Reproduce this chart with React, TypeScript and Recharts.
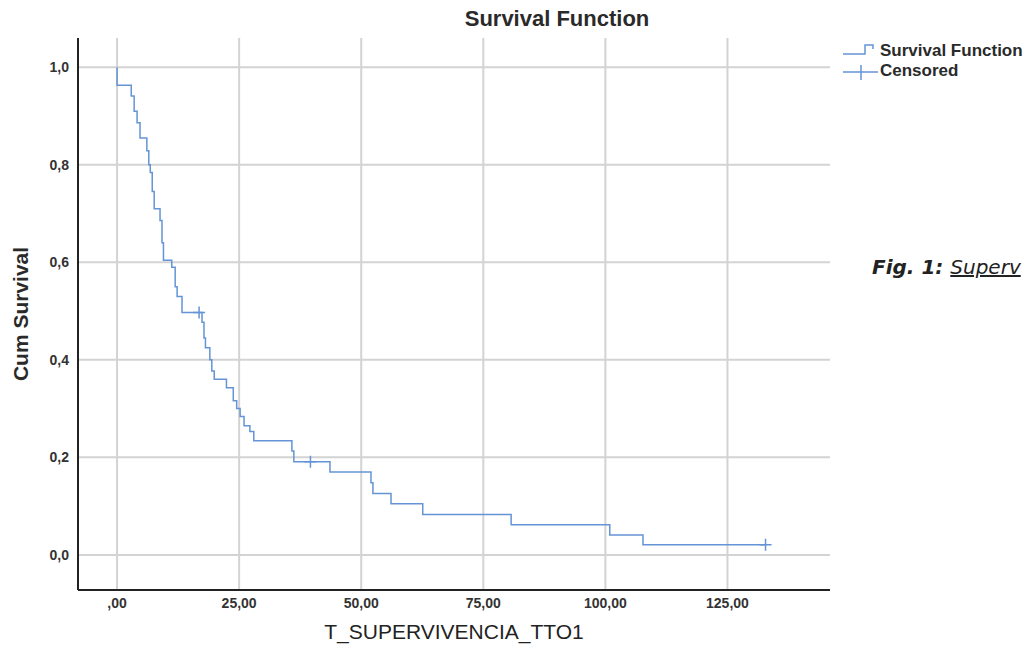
import { ComposedChart, Line, XAxis, YAxis, ReferenceLine } from "recharts";

// Kaplan-Meier steps
const times = [
  0, 0, 2.9, 3.5, 4.1, 4.7, 6.1, 6.5, 6.8, 7.2, 7.6, 8.8, 9.2, 9.5, 11.2, 11.9,
  12.3, 13.3, 17.4, 17.8, 18.1, 19.0, 19.4, 19.9, 22.4, 23.8, 24.5, 25.2, 26.0,
  27.2, 28.0, 35.8, 36.2, 43.6, 52.0, 52.4, 56.1, 62.6, 80.7, 100.9, 107.7, 132.8,
];
const survival = [
  1.0, 0.963, 0.941, 0.91, 0.886, 0.855, 0.829, 0.8, 0.784, 0.745, 0.71, 0.686,
  0.64, 0.604, 0.59, 0.55, 0.53, 0.497, 0.477, 0.445, 0.425, 0.4, 0.377, 0.36,
  0.343, 0.316, 0.3, 0.284, 0.265, 0.253, 0.234, 0.213, 0.191, 0.17, 0.148,
  0.126, 0.105, 0.083, 0.062, 0.041, 0.021, 0.021,
];
const censoredTimes = [16.8, 39.6, 132.8];
const censoredLevels = [0.497, 0.191, 0.021];

const xTicks = [0, 25, 50, 75, 100, 125];
const yTicks = [0, 0.2, 0.4, 0.6, 0.8, 1.0];

const survivalData = times.map((t, i) => ({ t, s: survival[i] }));
const censoredData = censoredTimes.map((t, i) => ({ t, s: censoredLevels[i] }));

const BLUE = "#6494d6";
const GRID = "#d3d3d3";
const FONT = "'Liberation Sans', Arial, sans-serif";

const fmtX = (v: number) => (v === 0 ? ",00" : v.toFixed(2).replace(".", ","));
const fmtY = (v: number) => v.toFixed(1).replace(".", ",");

const Plus = (props: any) => {
  const { cx, cy } = props;
  if (cx == null || cy == null) return null;
  return (
    <path
      d={`M${cx - 6},${cy} H${cx + 6} M${cx},${cy - 6} V${cy + 6}`}
      stroke={BLUE}
      strokeWidth={1.5}
      fill="none"
    />
  );
};

const tickStyle = { fontSize: 14, fontWeight: "bold", fill: "#333", fontFamily: FONT };

export default function App() {
  return (
    <div
      style={{
        position: "absolute",
        left: 0,
        top: 0,
        width: 1030,
        height: 646,
        background: "#fff",
        overflow: "hidden",
        fontFamily: FONT,
      }}
    >
      <div
        style={{
          position: "absolute",
          left: 407,
          top: 6,
          width: 300,
          textAlign: "center",
          fontSize: 22,
          fontWeight: "bold",
          color: "#2a2a2a",
        }}
      >
        Survival Function
      </div>

      <ComposedChart
        width={850}
        height={646}
        margin={{ top: 38, right: 20, bottom: 26, left: 38 }}
        style={{ position: "absolute", left: 0, top: 0 }}
      >
        {xTicks.map((v) => (
          <ReferenceLine key={"x" + v} x={v} stroke={GRID} strokeWidth={2} />
        ))}
        {yTicks.map((v) => (
          <ReferenceLine key={"y" + v} y={v} stroke={GRID} strokeWidth={2} />
        ))}
        <XAxis
          type="number"
          dataKey="t"
          domain={[-8, 146]}
          ticks={xTicks}
          allowDataOverflow
          tickFormatter={fmtX}
          tickLine={false}
          axisLine={{ stroke: "#222", strokeWidth: 2 }}
          tick={tickStyle}
          tickMargin={2}
          height={30}
        />
        <YAxis
          type="number"
          dataKey="s"
          domain={[-0.072, 1.06]}
          ticks={yTicks}
          allowDataOverflow
          tickFormatter={fmtY}
          tickLine={false}
          axisLine={{ stroke: "#222", strokeWidth: 2 }}
          tick={tickStyle}
          tickMargin={3}
          width={40}
        />
        <Line
          data={survivalData}
          dataKey="s"
          type="stepAfter"
          stroke={BLUE}
          strokeWidth={1.5}
          dot={false}
          activeDot={false}
          isAnimationActive={false}
        />
        <Line
          data={censoredData}
          dataKey="s"
          stroke="none"
          dot={<Plus />}
          activeDot={false}
          isAnimationActive={false}
        />
      </ComposedChart>

      <div
        style={{
          position: "absolute",
          left: 21,
          top: 314,
          transform: "translate(-50%, -50%) rotate(-90deg)",
          whiteSpace: "nowrap",
          fontSize: 21,
          fontWeight: "bold",
          color: "#2a2a2a",
        }}
      >
        Cum Survival
      </div>
      <div
        style={{
          position: "absolute",
          left: 254,
          top: 620,
          width: 400,
          textAlign: "center",
          fontSize: 21,
          color: "#222",
        }}
      >
        T_SUPERVIVENCIA_TTO1
      </div>

      <svg
        width={50}
        height={50}
        style={{ position: "absolute", left: 836, top: 38 }}
      >
        <path d="M7,16 H29 V7 H37 V11" stroke={BLUE} strokeWidth={1.5} fill="none" />
        <path d="M7,34 H42 M25,27 V42" stroke={BLUE} strokeWidth={1.5} fill="none" />
      </svg>
      <div
        style={{
          position: "absolute",
          left: 880,
          top: 41,
          fontSize: 17,
          fontWeight: "bold",
          color: "#2a2a2a",
          lineHeight: "20px",
          whiteSpace: "nowrap",
        }}
      >
        <div>Survival Function</div>
        <div>Censored</div>
      </div>

      <div
        style={{
          position: "absolute",
          left: 872,
          top: 255,
          fontSize: 20,
          fontFamily: "'DejaVu Sans', sans-serif",
          color: "#222",
          whiteSpace: "nowrap",
        }}
      >
        <span style={{ fontWeight: "bold", fontStyle: "italic" }}>Fig. 1: </span>
        <span style={{ textDecoration: "underline", fontStyle: "italic" }}>Superv</span>
      </div>
    </div>
  );
}
